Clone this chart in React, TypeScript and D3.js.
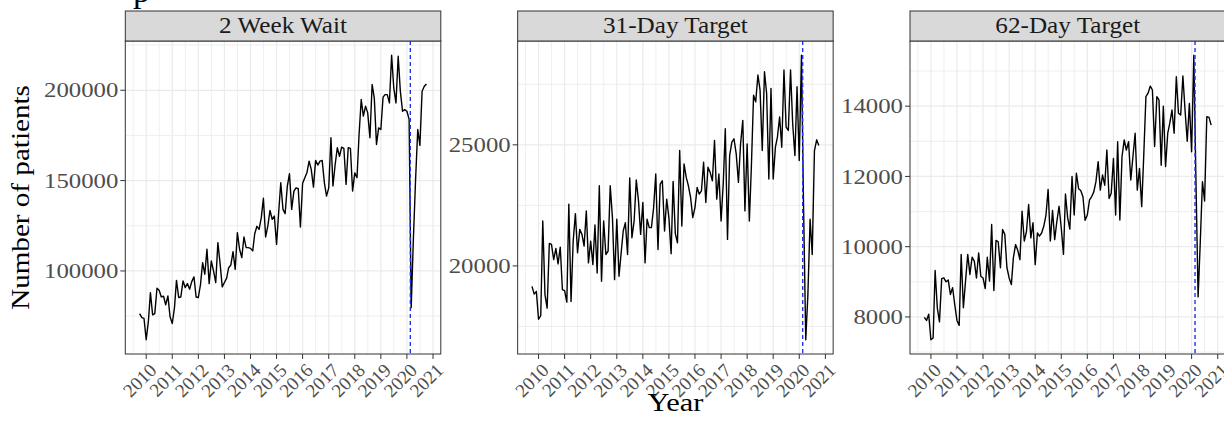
import React from "react";
import * as d3 from "d3";

// ---- data: monthly patient counts, first month October 2009 ----
const firstMonth = new Date(2009, 9, 1);
const lockdownDate = new Date(2020, 1, 18);

const panelTitles = ["2 Week Wait", "31-Day Target", "62-Day Target"];
const yearTicks = [2010, 2011, 2012, 2013, 2014, 2015, 2016, 2017, 2018, 2019, 2020, 2021];

const twoWeekWait = [
  76400, 74200, 73700, 61900, 72400, 88000, 75700, 76400, 90400, 89300, 85600, 86000,
  81200, 86200, 74600, 70900, 79700, 94800, 85300, 85600, 94500, 90800, 93000, 89900,
  94100, 96700, 85600, 85300, 92600, 104600, 98200, 112000, 93000, 105500, 100000, 93600,
  115700, 104100, 91200, 93600, 96000, 101800, 103300, 110700, 100900, 121200, 112000, 107400,
  118800, 112900, 112900, 112500, 111100, 120600, 124700, 123000, 129500, 140200, 118800, 124900,
  133500, 128600, 130400, 114700, 133200, 148800, 134100, 131700, 147000, 153800, 134100, 144200,
  146000, 145500, 124300, 148500, 151600, 154300, 160800, 156200, 146400, 161200, 158600, 160800,
  161200, 148800, 141400, 146000, 173700, 147000, 158900, 168200, 163500, 168500, 167800, 147900,
  168200, 167800, 144200, 154300, 151600, 175000, 194900, 185700, 191200, 187500, 173700, 203200,
  195800, 170000, 179200, 178300, 196200, 197600, 197600, 193000, 219400, 201300, 193000, 218800,
  199500, 188400, 189300, 188400, 184000, 79700, 118000, 150000, 178300, 169500, 199500, 202200,
  203500,
];

const thirtyOneDay = [
  19155, 18837, 18947, 17798, 17950, 21856, 18809, 18255, 20928, 20886, 20263, 20720,
  20083, 20776, 19017, 18975, 18504, 22548, 18532, 21025, 22161, 20540, 21510, 21302,
  20817, 22271, 20125, 21025, 20055, 21690, 19709, 23310, 19363, 21856, 20471, 20609,
  23310, 21994, 19432, 21925, 19571, 20471, 21440, 21787, 20471, 23629, 21163, 21856,
  23546, 22687, 21302, 22618, 20125, 21925, 21579, 21579, 22410, 23795, 20679, 23379,
  23518, 21440, 22756, 21994, 20499, 23490, 21330, 20956, 24764, 21648, 24210, 23656,
  23310, 22825, 21994, 22410, 23241, 22964, 23102, 24280, 22618, 24072, 23864, 23518,
  25180, 22756, 23795, 21856, 23449, 25665, 21094, 24557, 25111, 25249, 24626, 23449,
  25041, 26011, 22271, 25041, 21856, 24072, 27050, 26773, 27881, 27257, 24764, 28019,
  27119, 23587, 27327, 23587, 24903, 25318, 26150, 24903, 28088, 25734, 25595, 28088,
  25872, 24557, 27396, 24349, 28700, 22500, 16950, 18809, 21925, 20471, 24764, 25207,
  24972,
];

const sixtyTwoDay = [
  7990, 7900, 8080, 7350, 7400, 9320, 8250, 7860, 9090, 9110, 9000, 9050,
  8640, 8830, 8350, 7900, 7760, 9780, 8260, 9020, 9780, 9210, 9700, 9590,
  9110, 9820, 9160, 9110, 8810, 9700, 9020, 10630, 8750, 10180, 10140, 9400,
  10490, 10350, 9400, 9110, 8920, 9680, 10060, 9900, 9630, 11010, 10160, 10440,
  11200, 10250, 10680, 9490, 10390, 10300, 10390, 10580, 10900, 11630, 10160, 11030,
  10200, 10730, 11150, 10540, 9780, 11500, 10820, 10500, 12000, 10900, 12090, 11650,
  11600, 11420, 10750, 10900, 11330, 11420, 11560, 11850, 12420, 11610, 12040, 11750,
  12750, 11370, 11520, 12510, 10900, 12990, 10760, 12560, 13040, 12750, 12990, 11900,
  12560, 13230, 11610, 12230, 11140, 12560, 14270, 14370, 14570, 14460, 12850, 14270,
  14180, 12320, 14000, 12280, 13230, 13510, 13890, 13230, 14840, 13800, 13750, 14860,
  13890, 13000, 14080, 12700, 15450, 12000, 8570, 10100, 11850, 11300, 13700, 13680,
  13460,
];

const panelSeries = [twoWeekWait, thirtyOneDay, sixtyTwoDay];
const yBreaks1 = [100000, 150000, 200000];
const yBreaks2 = [20000, 25000];
const yBreaks3 = [8000, 10000, 12000, 14000];
const panelBreaks = [yBreaks1, yBreaks2, yBreaks3];

// ---- layout ----
const W = 1224;
const H = 423;
const PANEL_LEFT = 125.3;
const PANEL_STEP = 392.35;
const PANEL_W = 315.5;
const PANEL_TOP = 41;
const PANEL_BOTTOM = 354;
const STRIP_TOP = 11;
const FONT = "'Liberation Serif', 'Times New Roman', Times, serif";
const GRID = "#EBEBEB";
const DARK = "#333333";
const TICK_TEXT = "#4D4D4D";

function Panel({ index, title, values, breaks }) {
  const left = PANEL_LEFT + index * PANEL_STEP;
  const right = left + PANEL_W;

  const months = values.map((_, i) => d3.timeMonth.offset(firstMonth, i));
  const [t0, t1] = d3.extent(months);
  const span = +t1 - +t0;
  const x = d3
    .scaleTime()
    .domain([new Date(+t0 - 0.05 * span), new Date(+t1 + 0.05 * span)])
    .range([left, right]);

  const [v0, v1] = d3.extent(values);
  const pad = 0.05 * (v1 - v0);
  const y = d3.scaleLinear().domain([v0 - pad, v1 + pad]).range([PANEL_BOTTOM, PANEL_TOP]);

  const majorX = yearTicks.map((yr) => x(new Date(yr, 0, 1)));
  const xStep = majorX[1] - majorX[0];
  const minorX = [majorX[0] - xStep / 2, ...majorX.map((p) => p + xStep / 2)].filter(
    (p) => p > left && p < right
  );
  const yStep = breaks[1] - breaks[0];
  const [d0, d1] = y.domain();
  const minorY = [breaks[0] - yStep / 2, ...breaks.map((b) => b + yStep / 2)].filter(
    (v) => v > d0 && v < d1
  );

  const line = d3
    .line()
    .x((_, i) => x(months[i]))
    .y((d) => y(d));

  const fmt = d3.format("d");
  const clipId = `clip-${index}`;

  return (
    <g>
      <defs>
        <clipPath id={clipId}>
          <rect x={left} y={PANEL_TOP} width={PANEL_W} height={PANEL_BOTTOM - PANEL_TOP} />
        </clipPath>
      </defs>
      <rect x={left} y={PANEL_TOP} width={PANEL_W} height={PANEL_BOTTOM - PANEL_TOP} fill="#FFFFFF" />
      {/* grid */}
      {minorY.map((v) => (
        <line key={`my${v}`} x1={left} x2={right} y1={y(v)} y2={y(v)} stroke={GRID} strokeWidth={0.8} />
      ))}
      {minorX.map((p, i) => (
        <line key={`mx${i}`} x1={p} x2={p} y1={PANEL_TOP} y2={PANEL_BOTTOM} stroke={GRID} strokeWidth={0.8} />
      ))}
      {breaks.map((v) => (
        <line key={`gy${v}`} x1={left} x2={right} y1={y(v)} y2={y(v)} stroke={GRID} strokeWidth={1.2} />
      ))}
      {majorX.map((p, i) => (
        <line key={`gx${i}`} x1={p} x2={p} y1={PANEL_TOP} y2={PANEL_BOTTOM} stroke={GRID} strokeWidth={1.2} />
      ))}
      {/* series */}
      <g clipPath={`url(#${clipId})`}>
        <path d={line(values)} fill="none" stroke="#000000" strokeWidth={1.4} strokeLinejoin="round" />
        <line
          x1={x(lockdownDate)}
          x2={x(lockdownDate)}
          y1={PANEL_TOP}
          y2={PANEL_BOTTOM}
          stroke="#2233EE"
          strokeWidth={1.4}
          strokeDasharray="4 3"
        />
      </g>
      <rect
        x={left}
        y={PANEL_TOP}
        width={PANEL_W}
        height={PANEL_BOTTOM - PANEL_TOP}
        fill="none"
        stroke={DARK}
        strokeWidth={1}
      />
      {/* strip */}
      <rect
        x={left}
        y={STRIP_TOP}
        width={PANEL_W}
        height={PANEL_TOP - STRIP_TOP}
        fill="#D9D9D9"
        stroke={DARK}
        strokeWidth={1}
      />
      <text
        transform={`translate(${(left + right) / 2},${STRIP_TOP + 22.3}) scale(1.12,1)`}
        textAnchor="middle"
        fontFamily={FONT}
        fontSize={22.5}
        fill="#1A1A1A"
      >
        {title}
      </text>
      {/* y axis */}
      {breaks.map((v) => (
        <g key={`yt${v}`}>
          <line x1={left - 5} x2={left} y1={y(v)} y2={y(v)} stroke={DARK} strokeWidth={1} />
          <text
            transform={`translate(${left - 7},${y(v) + 7.2}) scale(1.18,1)`}
            textAnchor="end"
            fontFamily={FONT}
            fontSize={21}
            fill={TICK_TEXT}
          >
            {fmt(v)}
          </text>
        </g>
      ))}
      {/* x axis */}
      {majorX.map((p, i) => (
        <g key={`xt${i}`}>
          <line x1={p} x2={p} y1={PANEL_BOTTOM} y2={PANEL_BOTTOM + 5} stroke={DARK} strokeWidth={1} />
          <text
            transform={`translate(${p + 2},${PANEL_BOTTOM + 8}) rotate(-45)`}
            textAnchor="end"
            dy="0.7em"
            fontFamily={FONT}
            fontSize={19}
            fill={TICK_TEXT}
          >
            {yearTicks[i]}
          </text>
        </g>
      ))}
    </g>
  );
}

export default function App() {
  return (
    <svg
      width={W}
      height={H}
      viewBox={`0 0 ${W} ${H}`}
      style={{ position: "absolute", left: 0, top: 0, background: "#FFFFFF" }}
    >
      <rect width={W} height={H} fill="#FFFFFF" />
      <text x={133} y={2} fontFamily={FONT} fontSize={34} fill="#000000">
        p
      </text>
      {panelTitles.map((title, k) => (
        <Panel key={title} index={k} title={title} values={panelSeries[k]} breaks={panelBreaks[k]} />
      ))}
      <text
        transform={`translate(29,${(PANEL_TOP + PANEL_BOTTOM) / 2}) rotate(-90) scale(1.12,1)`}
        textAnchor="middle"
        fontFamily={FONT}
        fontSize={26}
        fill="#000000"
      >
        Number of patients
      </text>
      <text
        transform={`translate(${(PANEL_LEFT + PANEL_LEFT + 2 * PANEL_STEP + PANEL_W) / 2},411) scale(1.17,1)`}
        textAnchor="middle"
        fontFamily={FONT}
        fontSize={26}
        fill="#000000"
      >
        Year
      </text>
    </svg>
  );
}
